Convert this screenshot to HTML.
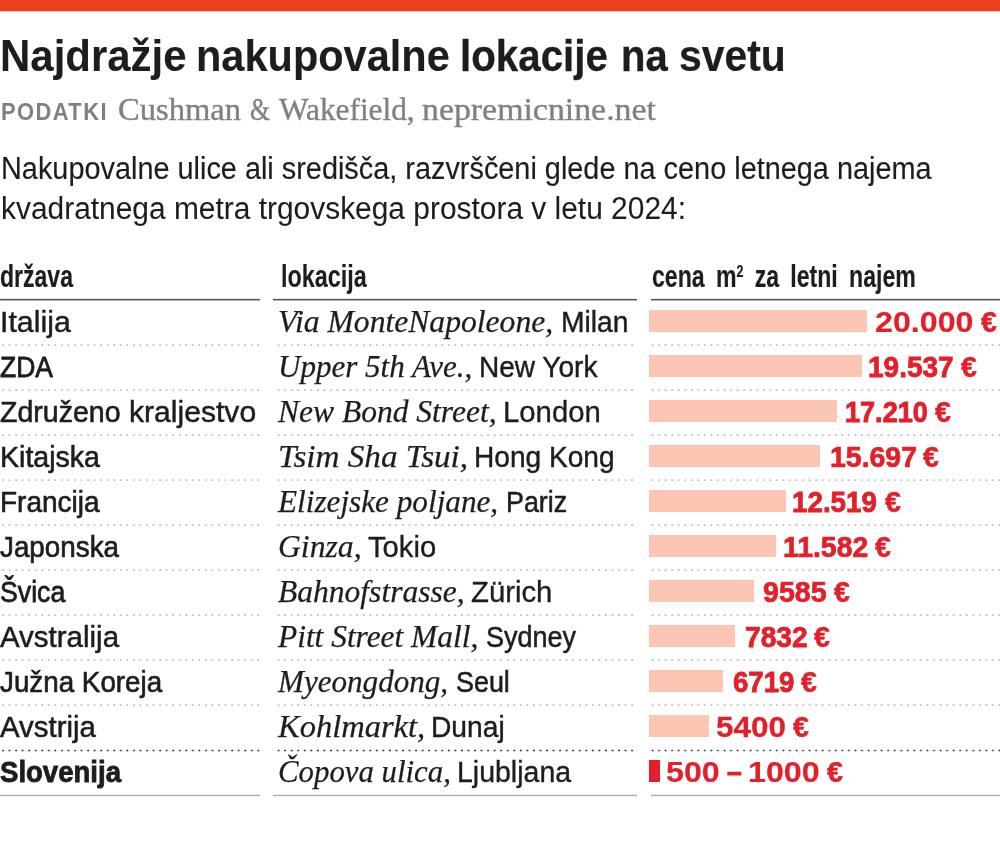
<!DOCTYPE html>
<html lang="sl">
<head>
<meta charset="utf-8">
<title>Najdražje nakupovalne lokacije na svetu</title>
<style>
html,body{margin:0;padding:0;background:#fff;}
body{width:1000px;height:857px;position:relative;overflow:hidden;}
.topbar{position:absolute;left:0;top:0;width:1000px;height:11.4px;background:#eb411f;box-shadow:0 1px 0 rgba(235,65,31,0.35);}
.t{position:absolute;white-space:nowrap;line-height:1.2;transform-origin:0 50%;}
.t sup{font-size:54%;vertical-align:baseline;position:relative;top:-0.6em;}
.hl{position:absolute;top:298px;height:3px;background:linear-gradient(to bottom,#ececec 0,#ececec 1px,#505052 1px,#505052 2px,#b6b6b9 2px,#b6b6b9 3px);}
.bl{position:absolute;top:794px;height:3px;background:linear-gradient(to bottom,#eeeeee 0,#eeeeee 1px,#a9a9ab 1px,#a9a9ab 2px,#f5f5f5 2px,#f5f5f5 3px);}
.dl{position:absolute;height:4px;background-size:6.56px 4px;background-repeat:repeat-x;--dc:#a8a8aa;--r0:0.35px;--r1:1.25px;--cy:2.08px;}
.dl.dk{--dc:#2e2e30;--r0:0.55px;--r1:1.3px;--cy:2.5px;}
.dl.c1{left:0;width:261px;background-image:radial-gradient(circle at 3.04px var(--cy),var(--dc) 0,var(--dc) var(--r0),transparent var(--r1));}
.dl.c2{left:273px;width:363px;background-image:radial-gradient(circle at 5.56px var(--cy),var(--dc) 0,var(--dc) var(--r0),transparent var(--r1));}
.dl.c3{left:651px;width:349px;background-image:radial-gradient(circle at 1.48px var(--cy),var(--dc) 0,var(--dc) var(--r0),transparent var(--r1));}
.c1{left:0;width:260px;}
.c2{left:273.2px;width:363.8px;}
.c3{left:651px;width:349px;}
.bar{position:absolute;left:649.4px;height:22px;background:#fcc5b4;}
.bar.red{background:#e2202c;}
</style>
</head>
<body>
<div class="topbar"></div>
<div class="hl c1"></div><div class="hl c2"></div><div class="hl c3"></div>
<div class="dl c1" style="top:343px"></div>
<div class="dl c2" style="top:343px"></div>
<div class="dl c3" style="top:343px"></div>
<div class="dl c1" style="top:388px"></div>
<div class="dl c2" style="top:388px"></div>
<div class="dl c3" style="top:388px"></div>
<div class="dl c1" style="top:433px"></div>
<div class="dl c2" style="top:433px"></div>
<div class="dl c3" style="top:433px"></div>
<div class="dl c1" style="top:478px"></div>
<div class="dl c2" style="top:478px"></div>
<div class="dl c3" style="top:478px"></div>
<div class="dl c1" style="top:523px"></div>
<div class="dl c2" style="top:523px"></div>
<div class="dl c3" style="top:523px"></div>
<div class="dl c1" style="top:568px"></div>
<div class="dl c2" style="top:568px"></div>
<div class="dl c3" style="top:568px"></div>
<div class="dl c1" style="top:613px"></div>
<div class="dl c2" style="top:613px"></div>
<div class="dl c3" style="top:613px"></div>
<div class="dl c1" style="top:658px"></div>
<div class="dl c2" style="top:658px"></div>
<div class="dl c3" style="top:658px"></div>
<div class="dl c1" style="top:703px"></div>
<div class="dl c2" style="top:703px"></div>
<div class="dl c3" style="top:703px"></div>
<div class="dl dk c1" style="top:748px"></div>
<div class="dl dk c2" style="top:748px"></div>
<div class="dl dk c3" style="top:748px"></div>
<div class="bl c1"></div><div class="bl c2"></div><div class="bl c3"></div>
<div class="bar" style="top:310px;width:217.6px"></div>
<div class="bar" style="top:355px;width:212.6px"></div>
<div class="bar" style="top:400px;width:187.3px"></div>
<div class="bar" style="top:445px;width:170.9px"></div>
<div class="bar" style="top:490px;width:136.4px"></div>
<div class="bar" style="top:535px;width:126.3px"></div>
<div class="bar" style="top:580px;width:104.6px"></div>
<div class="bar" style="top:625px;width:85.6px"></div>
<div class="bar" style="top:670px;width:73.5px"></div>
<div class="bar" style="top:715px;width:59.2px"></div>
<div class="bar red" style="top:760px;width:10.4px"></div>
<span class="t" style="left:0.17px;top:29.00px;font-family:'Liberation Sans', sans-serif;font-size:44.5px;font-weight:700;font-style:normal;color:#1d1d1b;-webkit-text-stroke:0.06px #1d1d1b;transform:scaleX(0.9430)">Najdražje</span>
<span class="t" style="left:196.00px;top:29.00px;font-family:'Liberation Sans', sans-serif;font-size:44.5px;font-weight:700;font-style:normal;color:#1d1d1b;-webkit-text-stroke:0.12px #1d1d1b;transform:scaleX(0.9328)">nakupovalne</span>
<span class="t" style="left:459.78px;top:29.00px;font-family:'Liberation Sans', sans-serif;font-size:44.5px;font-weight:700;font-style:normal;color:#1d1d1b;-webkit-text-stroke:0.30px #1d1d1b;transform:scaleX(0.9057)">lokacije</span>
<span class="t" style="left:620.81px;top:29.00px;font-family:'Liberation Sans', sans-serif;font-size:44.5px;font-weight:700;font-style:normal;color:#1d1d1b;-webkit-text-stroke:0.35px #1d1d1b;transform:scaleX(0.8980)">na</span>
<span class="t" style="left:679.16px;top:29.00px;font-family:'Liberation Sans', sans-serif;font-size:44.5px;font-weight:700;font-style:normal;color:#1d1d1b;-webkit-text-stroke:0.21px #1d1d1b;transform:scaleX(0.9189)">svetu</span>
<span class="t" style="left:1.05px;top:98.80px;font-family:'Liberation Sans', sans-serif;font-size:23px;font-weight:700;font-style:normal;color:#808084;letter-spacing:1.5px;transform:scaleX(0.9519)">PODATKI</span>
<span class="t" style="left:117.55px;top:91.00px;font-family:'Liberation Serif', serif;font-size:31px;font-weight:400;font-style:normal;color:#808084;-webkit-text-stroke:0.35px #808084;transform:scaleX(1.0500)">Cushman</span>
<span class="t" style="left:249.78px;top:91.00px;font-family:'Liberation Serif', serif;font-size:31px;font-weight:400;font-style:normal;color:#808084;-webkit-text-stroke:0.35px #808084;transform:scaleX(0.8217)">&amp;</span>
<span class="t" style="left:279.10px;top:91.00px;font-family:'Liberation Serif', serif;font-size:31px;font-weight:400;font-style:normal;color:#808084;-webkit-text-stroke:0.35px #808084;transform:scaleX(1.0098)">Wakefield,</span>
<span class="t" style="left:422.41px;top:91.00px;font-family:'Liberation Serif', serif;font-size:31px;font-weight:400;font-style:normal;color:#808084;-webkit-text-stroke:0.35px #808084;transform:scaleX(1.0915)">nepremicnine.net</span>
<span class="t" style="left:0.94px;top:149.60px;font-family:'Liberation Sans', sans-serif;font-size:31px;font-weight:400;font-style:normal;color:#1d1d1b;-webkit-text-stroke:0.16px #1d1d1b;transform:scaleX(0.9311)">Nakupovalne ulice ali središča, razvrščeni glede na ceno letnega najema</span>
<span class="t" style="left:0.87px;top:189.60px;font-family:'Liberation Sans', sans-serif;font-size:31px;font-weight:400;font-style:normal;color:#1d1d1b;-webkit-text-stroke:0.06px #1d1d1b;transform:scaleX(0.9648)">kvadratnega metra trgovskega prostora v letu 2024:</span>
<span class="t" style="left:0.06px;top:257.60px;font-family:'Liberation Sans', sans-serif;font-size:31px;font-weight:700;font-style:normal;color:#1d1d1b;-webkit-text-stroke:0.18px #1d1d1b;transform:scaleX(0.7429)">država</span>
<span class="t" style="left:280.89px;top:257.60px;font-family:'Liberation Sans', sans-serif;font-size:31px;font-weight:700;font-style:normal;color:#1d1d1b;-webkit-text-stroke:0.13px #1d1d1b;transform:scaleX(0.7545)">lokacija</span>
<span class="t" style="left:652.25px;top:257.60px;font-family:'Liberation Sans', sans-serif;font-size:31px;font-weight:700;font-style:normal;color:#1d1d1b;word-spacing:6.5px;-webkit-text-stroke:0.17px #1d1d1b;transform:scaleX(0.7450)">cena m<sup>2</sup> za letni najem</span>
<span class="t" style="left:-0.40px;top:305.00px;font-family:'Liberation Sans', sans-serif;font-size:29px;font-weight:400;font-style:normal;color:#1d1d1b;-webkit-text-stroke:0.42px #1d1d1b;transform:scaleX(1.0471)">Italija</span>
<span class="t" style="left:-0.40px;top:350.00px;font-family:'Liberation Sans', sans-serif;font-size:29px;font-weight:400;font-style:normal;color:#1d1d1b;-webkit-text-stroke:0.78px #1d1d1b;transform:scaleX(0.9121)">ZDA</span>
<span class="t" style="left:-0.40px;top:395.00px;font-family:'Liberation Sans', sans-serif;font-size:29px;font-weight:400;font-style:normal;color:#1d1d1b;-webkit-text-stroke:0.59px #1d1d1b;transform:scaleX(0.9843)">Združeno</span>
<span class="t" style="left:-0.40px;top:440.00px;font-family:'Liberation Sans', sans-serif;font-size:29px;font-weight:400;font-style:normal;color:#1d1d1b;-webkit-text-stroke:0.59px #1d1d1b;transform:scaleX(0.9843)">Kitajska</span>
<span class="t" style="left:-0.40px;top:485.00px;font-family:'Liberation Sans', sans-serif;font-size:29px;font-weight:400;font-style:normal;color:#1d1d1b;-webkit-text-stroke:0.64px #1d1d1b;transform:scaleX(0.9650)">Francija</span>
<span class="t" style="left:-0.40px;top:530.00px;font-family:'Liberation Sans', sans-serif;font-size:29px;font-weight:400;font-style:normal;color:#1d1d1b;-webkit-text-stroke:0.66px #1d1d1b;transform:scaleX(0.9589)">Japonska</span>
<span class="t" style="left:-0.40px;top:575.00px;font-family:'Liberation Sans', sans-serif;font-size:29px;font-weight:400;font-style:normal;color:#1d1d1b;-webkit-text-stroke:0.76px #1d1d1b;transform:scaleX(0.9211)">Švica</span>
<span class="t" style="left:-0.40px;top:620.00px;font-family:'Liberation Sans', sans-serif;font-size:29px;font-weight:400;font-style:normal;color:#1d1d1b;-webkit-text-stroke:0.50px #1d1d1b;transform:scaleX(1.0162)">Avstralija</span>
<span class="t" style="left:-0.40px;top:665.00px;font-family:'Liberation Sans', sans-serif;font-size:29px;font-weight:400;font-style:normal;color:#1d1d1b;-webkit-text-stroke:0.66px #1d1d1b;transform:scaleX(0.9580)">Južna Koreja</span>
<span class="t" style="left:-0.40px;top:710.00px;font-family:'Liberation Sans', sans-serif;font-size:29px;font-weight:400;font-style:normal;color:#1d1d1b;-webkit-text-stroke:0.51px #1d1d1b;transform:scaleX(1.0147)">Avstrija</span>
<span class="t" style="left:129.22px;top:395.00px;font-family:'Liberation Sans', sans-serif;font-size:29px;font-weight:400;font-style:normal;color:#1d1d1b;-webkit-text-stroke:0.45px #1d1d1b;transform:scaleX(1.0378)">kraljestvo</span>
<span class="t" style="left:-0.40px;top:755.00px;font-family:'Liberation Sans', sans-serif;font-size:28.6px;font-weight:700;font-style:normal;color:#1d1d1b;-webkit-text-stroke:0.83px #1d1d1b;transform:scaleX(0.9635)">Slovenija</span>
<span class="t" style="left:277.80px;top:303.00px;font-family:'Liberation Serif', serif;font-size:31px;font-weight:400;font-style:italic;color:#1d1d1b;-webkit-text-stroke:0.25px #1d1d1b;transform:scaleX(1.0201)">Via MonteNapoleone,</span>
<span class="t" style="left:561.05px;top:305.00px;font-family:'Liberation Sans', sans-serif;font-size:29px;font-weight:400;font-style:normal;color:#1d1d1b;-webkit-text-stroke:0.41px #1d1d1b;transform:scaleX(0.9742)">Milan</span>
<span class="t" style="left:277.80px;top:348.00px;font-family:'Liberation Serif', serif;font-size:31px;font-weight:400;font-style:italic;color:#1d1d1b;-webkit-text-stroke:0.25px #1d1d1b;transform:scaleX(1.0010)">Upper 5th Ave.,</span>
<span class="t" style="left:479.07px;top:350.00px;font-family:'Liberation Sans', sans-serif;font-size:29px;font-weight:400;font-style:normal;color:#1d1d1b;-webkit-text-stroke:0.43px #1d1d1b;transform:scaleX(0.9667)">New York</span>
<span class="t" style="left:277.80px;top:393.00px;font-family:'Liberation Serif', serif;font-size:31px;font-weight:400;font-style:italic;color:#1d1d1b;-webkit-text-stroke:0.25px #1d1d1b;transform:scaleX(1.0169)">New Bond Street,</span>
<span class="t" style="left:502.98px;top:395.00px;font-family:'Liberation Sans', sans-serif;font-size:29px;font-weight:400;font-style:normal;color:#1d1d1b;-webkit-text-stroke:0.32px #1d1d1b;transform:scaleX(1.0108)">London</span>
<span class="t" style="left:277.80px;top:438.00px;font-family:'Liberation Serif', serif;font-size:31px;font-weight:400;font-style:italic;color:#1d1d1b;-webkit-text-stroke:0.25px #1d1d1b;transform:scaleX(1.0693)">Tsim Sha Tsui,</span>
<span class="t" style="left:474.46px;top:440.00px;font-family:'Liberation Sans', sans-serif;font-size:29px;font-weight:400;font-style:normal;color:#1d1d1b;-webkit-text-stroke:0.43px #1d1d1b;transform:scaleX(0.9688)">Hong Kong</span>
<span class="t" style="left:277.80px;top:483.00px;font-family:'Liberation Serif', serif;font-size:31px;font-weight:400;font-style:italic;color:#1d1d1b;-webkit-text-stroke:0.25px #1d1d1b;transform:scaleX(1.0069)">Elizejske poljane,</span>
<span class="t" style="left:506.15px;top:485.00px;font-family:'Liberation Sans', sans-serif;font-size:29px;font-weight:400;font-style:normal;color:#1d1d1b;-webkit-text-stroke:0.54px #1d1d1b;transform:scaleX(0.9254)">Pariz</span>
<span class="t" style="left:277.80px;top:528.00px;font-family:'Liberation Serif', serif;font-size:31px;font-weight:400;font-style:italic;color:#1d1d1b;-webkit-text-stroke:0.25px #1d1d1b;transform:scaleX(1.0212)">Ginza,</span>
<span class="t" style="left:368.49px;top:530.00px;font-family:'Liberation Sans', sans-serif;font-size:29px;font-weight:400;font-style:normal;color:#1d1d1b;-webkit-text-stroke:0.33px #1d1d1b;transform:scaleX(1.0077)">Tokio</span>
<span class="t" style="left:277.80px;top:573.00px;font-family:'Liberation Serif', serif;font-size:31px;font-weight:400;font-style:italic;color:#1d1d1b;-webkit-text-stroke:0.25px #1d1d1b;transform:scaleX(1.0176)">Bahnofstrasse,</span>
<span class="t" style="left:471.49px;top:575.00px;font-family:'Liberation Sans', sans-serif;font-size:29px;font-weight:400;font-style:normal;color:#1d1d1b;-webkit-text-stroke:0.32px #1d1d1b;transform:scaleX(1.0103)">Zürich</span>
<span class="t" style="left:277.80px;top:618.00px;font-family:'Liberation Serif', serif;font-size:31px;font-weight:400;font-style:italic;color:#1d1d1b;-webkit-text-stroke:0.25px #1d1d1b;transform:scaleX(1.0128)">Pitt Street Mall,</span>
<span class="t" style="left:486.07px;top:620.00px;font-family:'Liberation Sans', sans-serif;font-size:29px;font-weight:400;font-style:normal;color:#1d1d1b;-webkit-text-stroke:0.53px #1d1d1b;transform:scaleX(0.9302)">Sydney</span>
<span class="t" style="left:277.80px;top:663.00px;font-family:'Liberation Serif', serif;font-size:31px;font-weight:400;font-style:italic;color:#1d1d1b;-webkit-text-stroke:0.25px #1d1d1b;transform:scaleX(1.0030)">Myeongdong,</span>
<span class="t" style="left:456.07px;top:665.00px;font-family:'Liberation Sans', sans-serif;font-size:29px;font-weight:400;font-style:normal;color:#1d1d1b;-webkit-text-stroke:0.54px #1d1d1b;transform:scaleX(0.9273)">Seul</span>
<span class="t" style="left:277.80px;top:708.00px;font-family:'Liberation Serif', serif;font-size:31px;font-weight:400;font-style:italic;color:#1d1d1b;-webkit-text-stroke:0.25px #1d1d1b;transform:scaleX(1.0486)">Kohlmarkt,</span>
<span class="t" style="left:431.06px;top:710.00px;font-family:'Liberation Sans', sans-serif;font-size:29px;font-weight:400;font-style:normal;color:#1d1d1b;-webkit-text-stroke:0.42px #1d1d1b;transform:scaleX(0.9722)">Dunaj</span>
<span class="t" style="left:277.80px;top:753.00px;font-family:'Liberation Serif', serif;font-size:31px;font-weight:400;font-style:italic;color:#1d1d1b;-webkit-text-stroke:0.25px #1d1d1b;transform:scaleX(0.9942)">Čopova ulica,</span>
<span class="t" style="left:457.34px;top:755.00px;font-family:'Liberation Sans', sans-serif;font-size:29px;font-weight:400;font-style:normal;color:#1d1d1b;-webkit-text-stroke:0.39px #1d1d1b;transform:scaleX(0.9825)">Ljubljana</span>
<span class="t" style="left:875.40px;top:303.80px;font-family:'Liberation Sans', sans-serif;font-size:29.3px;font-weight:700;font-style:normal;color:#e2202c;-webkit-text-stroke:0.16px #e2202c;transform:scaleX(1.0989)">20.000</span>
<span class="t" style="left:980.50px;top:303.80px;font-family:'Liberation Sans', sans-serif;font-size:29.3px;font-weight:700;font-style:normal;color:#e2202c;-webkit-text-stroke:0.49px #e2202c;transform:scaleX(0.9750)">€</span>
<span class="t" style="left:868.49px;top:348.80px;font-family:'Liberation Sans', sans-serif;font-size:29.3px;font-weight:700;font-style:normal;color:#e2202c;-webkit-text-stroke:0.77px #e2202c;transform:scaleX(0.9558)">19.537</span>
<span class="t" style="left:961.00px;top:348.80px;font-family:'Liberation Sans', sans-serif;font-size:29.3px;font-weight:700;font-style:normal;color:#e2202c;-webkit-text-stroke:0.49px #e2202c;transform:scaleX(0.9750)">€</span>
<span class="t" style="left:845.15px;top:393.80px;font-family:'Liberation Sans', sans-serif;font-size:29.3px;font-weight:700;font-style:normal;color:#e2202c;-webkit-text-stroke:0.90px #e2202c;transform:scaleX(0.9244)">17.210</span>
<span class="t" style="left:934.90px;top:393.80px;font-family:'Liberation Sans', sans-serif;font-size:29.3px;font-weight:700;font-style:normal;color:#e2202c;-webkit-text-stroke:0.49px #e2202c;transform:scaleX(0.9750)">€</span>
<span class="t" style="left:829.56px;top:438.80px;font-family:'Liberation Sans', sans-serif;font-size:29.3px;font-weight:700;font-style:normal;color:#e2202c;-webkit-text-stroke:0.70px #e2202c;transform:scaleX(0.9709)">15.697</span>
<span class="t" style="left:923.40px;top:438.80px;font-family:'Liberation Sans', sans-serif;font-size:29.3px;font-weight:700;font-style:normal;color:#e2202c;-webkit-text-stroke:0.49px #e2202c;transform:scaleX(0.9750)">€</span>
<span class="t" style="left:792.10px;top:483.80px;font-family:'Liberation Sans', sans-serif;font-size:29.3px;font-weight:700;font-style:normal;color:#e2202c;-webkit-text-stroke:0.80px #e2202c;transform:scaleX(0.9483)">12.519</span>
<span class="t" style="left:884.90px;top:483.80px;font-family:'Liberation Sans', sans-serif;font-size:29.3px;font-weight:700;font-style:normal;color:#e2202c;-webkit-text-stroke:0.49px #e2202c;transform:scaleX(0.9750)">€</span>
<span class="t" style="left:782.76px;top:528.80px;font-family:'Liberation Sans', sans-serif;font-size:29.3px;font-weight:700;font-style:normal;color:#e2202c;-webkit-text-stroke:0.71px #e2202c;transform:scaleX(0.9682)">11.582</span>
<span class="t" style="left:875.40px;top:528.80px;font-family:'Liberation Sans', sans-serif;font-size:29.3px;font-weight:700;font-style:normal;color:#e2202c;-webkit-text-stroke:0.49px #e2202c;transform:scaleX(0.9750)">€</span>
<span class="t" style="left:762.52px;top:573.80px;font-family:'Liberation Sans', sans-serif;font-size:29.3px;font-weight:700;font-style:normal;color:#e2202c;-webkit-text-stroke:0.68px #e2202c;transform:scaleX(0.9766)">9585</span>
<span class="t" style="left:834.40px;top:573.80px;font-family:'Liberation Sans', sans-serif;font-size:29.3px;font-weight:700;font-style:normal;color:#e2202c;-webkit-text-stroke:0.49px #e2202c;transform:scaleX(0.9750)">€</span>
<span class="t" style="left:744.54px;top:618.80px;font-family:'Liberation Sans', sans-serif;font-size:29.3px;font-weight:700;font-style:normal;color:#e2202c;-webkit-text-stroke:0.75px #e2202c;transform:scaleX(0.9603)">7832</span>
<span class="t" style="left:814.40px;top:618.80px;font-family:'Liberation Sans', sans-serif;font-size:29.3px;font-weight:700;font-style:normal;color:#e2202c;-webkit-text-stroke:0.49px #e2202c;transform:scaleX(0.9750)">€</span>
<span class="t" style="left:732.66px;top:663.80px;font-family:'Liberation Sans', sans-serif;font-size:29.3px;font-weight:700;font-style:normal;color:#e2202c;-webkit-text-stroke:0.82px #e2202c;transform:scaleX(0.9429)">6719</span>
<span class="t" style="left:801.40px;top:663.80px;font-family:'Liberation Sans', sans-serif;font-size:29.3px;font-weight:700;font-style:normal;color:#e2202c;-webkit-text-stroke:0.49px #e2202c;transform:scaleX(0.9750)">€</span>
<span class="t" style="left:716.33px;top:708.80px;font-family:'Liberation Sans', sans-serif;font-size:29.3px;font-weight:700;font-style:normal;color:#e2202c;-webkit-text-stroke:0.27px #e2202c;transform:scaleX(1.0730)">5400</span>
<span class="t" style="left:793.40px;top:708.80px;font-family:'Liberation Sans', sans-serif;font-size:29.3px;font-weight:700;font-style:normal;color:#e2202c;-webkit-text-stroke:0.49px #e2202c;transform:scaleX(0.9750)">€</span>
<span class="t" style="left:666.40px;top:753.80px;font-family:'Liberation Sans', sans-serif;font-size:29.3px;font-weight:700;font-style:normal;color:#e2202c;-webkit-text-stroke:0.16px #e2202c;transform:scaleX(1.1000)">500</span>
<span class="t" style="left:727.09px;top:753.80px;font-family:'Liberation Sans', sans-serif;font-size:29.3px;font-weight:700;font-style:normal;color:#e2202c;-webkit-text-stroke:0.80px #e2202c;transform:scaleX(0.9067)">–</span>
<span class="t" style="left:747.80px;top:753.80px;font-family:'Liberation Sans', sans-serif;font-size:29.3px;font-weight:700;font-style:normal;color:#e2202c;-webkit-text-stroke:0.16px #e2202c;transform:scaleX(1.1000)">1000</span>
<span class="t" style="left:826.70px;top:753.80px;font-family:'Liberation Sans', sans-serif;font-size:29.3px;font-weight:700;font-style:normal;color:#e2202c;-webkit-text-stroke:0.49px #e2202c;transform:scaleX(0.9750)">€</span>
</body>
</html>
